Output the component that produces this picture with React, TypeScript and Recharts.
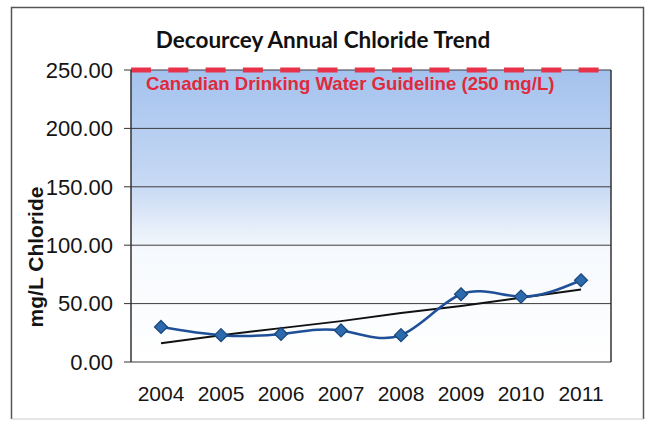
import {
  LineChart,
  Line,
  XAxis,
  YAxis,
  CartesianGrid,
  ReferenceLine,
  Label,
} from 'recharts';

const YEARS = [2004, 2005, 2006, 2007, 2008, 2009, 2010, 2011];
const CHLORIDE = [30, 23, 24, 27, 23, 58, 56, 70];
const TREND = [16, 23, 29, 35, 42, 48, 55, 62];
const Y_TICKS = [0, 50, 100, 150, 200, 250];
const GUIDELINE = 250;

const data = YEARS.map((year, i) => ({ year, value: CHLORIDE[i], trend: TREND[i] }));
const bandEdges = [...YEARS.map((y) => y - 0.5), YEARS[YEARS.length - 1] + 0.5];
const xDomain = [bandEdges[0], bandEdges[bandEdges.length - 1]];

const AXIS_FONT = 'Arial, "Liberation Sans", sans-serif';

function Diamond(props: any) {
  const { cx, cy } = props;
  if (cx == null || cy == null) return null;
  const r = 6.5;
  return (
    <polygon
      points={`${cx},${cy - r} ${cx + r},${cy} ${cx},${cy + r} ${cx - r},${cy}`}
      fill="#2a6aad"
      stroke="#1b4678"
      strokeWidth={1.2}
    />
  );
}

export default function App() {
  return (
    <div style={{ position: 'absolute', left: 0, top: 0, width: 646, height: 422, background: '#fff' }}>
      <svg width={0} height={0} style={{ position: 'absolute' }}>
        <defs>
          <linearGradient id="plotBg" x1="0" y1="0" x2="0" y2="1">
            <stop offset="0" stopColor="#a4c2ee" />
            <stop offset="0.4" stopColor="#c8daf4" />
            <stop offset="0.62" stopColor="#f6f9fd" />
            <stop offset="1" stopColor="#ffffff" />
          </linearGradient>
        </defs>
      </svg>
      <LineChart
        width={646}
        height={422}
        data={data}
        margin={{ top: 70, right: 35, bottom: 0, left: 0 }}
      >
        <CartesianGrid
          xAxisId="tk"
          vertical={false}
          stroke="#3c3c3c"
          strokeWidth={1}
          fill="url(#plotBg)"
          fillOpacity={1}
        />
        <XAxis
          xAxisId="tk"
          dataKey="year"
          type="number"
          domain={xDomain}
          ticks={bandEdges}
          tick={false}
          tickSize={6}
          height={0}
          stroke="#333"
          axisLine={{ stroke: '#333', strokeWidth: 1.5 }}
        />
        <XAxis
          xAxisId="yr"
          dataKey="year"
          type="number"
          domain={xDomain}
          ticks={YEARS}
          interval={0}
          axisLine={false}
          tickLine={false}
          tickMargin={18}
          height={60}
          tick={{ fontSize: 21, fill: '#141414', fontFamily: AXIS_FONT }}
        />
        <YAxis
          domain={[0, GUIDELINE]}
          ticks={Y_TICKS}
          width={131}
          tickSize={7}
          tickMargin={11}
          tickFormatter={(v: number) => v.toFixed(2)}
          stroke="#333"
          axisLine={{ stroke: '#333', strokeWidth: 1.5 }}
          tick={{ fontSize: 22, fill: '#141414', fontFamily: AXIS_FONT }}
        >
          <Label
            content={() => (
              <text
                transform="translate(43,257) rotate(-90)"
                textAnchor="middle"
                fontFamily={AXIS_FONT}
                fontWeight="bold"
                fontSize={21}
                fill="#141414"
              >
                mg/L Chloride
              </text>
            )}
          />
        </YAxis>
        <ReferenceLine xAxisId="yr" x={xDomain[1]} stroke="#333" strokeWidth={1.5} />
        <ReferenceLine
          xAxisId="yr"
          y={GUIDELINE}
          stroke="#e8324a"
          strokeWidth={5}
          strokeDasharray="20 17.3"
        >
          <Label
            content={(p: any) => (
              <text
                x={(p.viewBox?.x ?? 131) + 15}
                y={(p.viewBox?.y ?? 70) + 20}
                fontFamily={AXIS_FONT}
                fontWeight="bold"
                fontSize={18.6}
                fill="#e02a3c"
              >
                Canadian Drinking Water Guideline (250 mg/L)
              </text>
            )}
          />
        </ReferenceLine>
        <Line
          xAxisId="yr"
          dataKey="trend"
          type="linear"
          stroke="#111"
          strokeWidth={2}
          dot={false}
          activeDot={false}
          isAnimationActive={false}
        />
        <Line
          xAxisId="yr"
          dataKey="value"
          type="natural"
          stroke="#1f4f98"
          strokeWidth={2.5}
          dot={<Diamond />}
          activeDot={false}
          isAnimationActive={false}
        />
      </LineChart>
      <svg
        width={646}
        height={422}
        style={{ position: 'absolute', left: 0, top: 0, pointerEvents: 'none' }}
      >
        <text
          x={323}
          y={48}
          textAnchor="middle"
          fontFamily='Lato, "Open Sans", sans-serif'
          fontWeight="bold"
          fontSize={22.5}
          fill="#111"
        >
          Decourcey Annual Chloride Trend
        </text>
        <path d="M11.5,419 L11.5,7.5 L643.5,7.5 L643.5,419" fill="none" stroke="#555" strokeWidth={1.5} />
        <line x1={11.5} y1={419} x2={643.5} y2={419} stroke="#ccc" strokeWidth={1} />
      </svg>
    </div>
  );
}
